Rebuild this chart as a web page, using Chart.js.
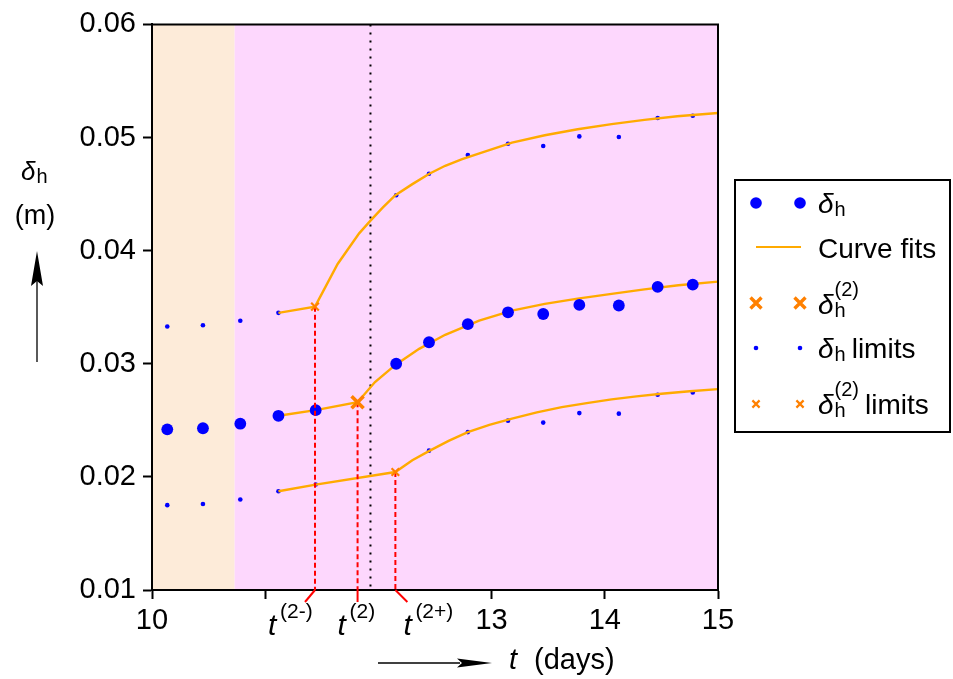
<!DOCTYPE html>
<html>
<head>
<meta charset="utf-8">
<script src="https://cdn.jsdelivr.net/npm/chart.js@4.4.1/dist/chart.umd.min.js"></script>
<style>
  html, body { margin: 0; padding: 0; background: #fff; }
  #wrap { width: 953px; height: 679px; }
</style>
</head>
<body>
<div id="wrap"><canvas id="chart" width="953" height="679"></canvas></div>
<script>
// measurement days and settlement values (m)
const days = [10.135, 10.45, 10.78, 11.117, 11.446, 12.157, 12.447, 12.79, 13.145, 13.456, 13.775, 14.124, 14.467, 14.777];
const deltaH = [0.0242, 0.0243, 0.0247, 0.0254, 0.0259, 0.0300, 0.0319, 0.0335, 0.03455, 0.0344, 0.0352, 0.03515, 0.0368, 0.0370];
const upperLimit = [0.0333, 0.0334, 0.0338, 0.0345, null, 0.0449, 0.0468, 0.04845, 0.04945, 0.04925, 0.0501, 0.05005, 0.05173, 0.05193];
const lowerLimit = [0.0175, 0.0176, 0.0180, 0.01873, 0.01932, null, 0.02232, 0.02396, 0.02497, 0.0248, 0.02564, 0.02559, 0.02726, 0.02747];

// switch points
const tSwitch = [11.44, 11.816, 12.15];       // t(2-), t(2), t(2+)
const tSwitchLabels = ['(2-)', '(2)', '(2+)'];
const deltaSwitch = [0.0266];                  // at t(2)
const deltaSwitchLimits = [0.03505, 0.02043];  // at t(2-) upper, t(2+) lower
const tMiddle = 11.93;
const phaseBounds = [10, 10.73, 15];

// curve fits
const fitUpperX = [11.117, 11.44, 11.64, 11.83, 11.93, 12.04, 12.15, 12.30, 12.45, 12.59, 12.74, 12.886, 13.18, 13.47, 13.76, 14.06, 14.35, 14.64, 15.0];
const fitUpperY = [0.0345, 0.03505, 0.03882, 0.04153, 0.04265, 0.04382, 0.0449, 0.04588, 0.0468, 0.0475, 0.04809, 0.04858, 0.04955, 0.0502, 0.05073, 0.05118, 0.05156, 0.05188, 0.05217];
const fitMidX = [11.117, 11.446, 11.816, 11.97, 12.15, 12.36, 12.59, 12.89, 13.18, 13.47, 13.76, 14.06, 14.35, 14.65, 15.0];
const fitMidY = [0.0254, 0.0259, 0.0266, 0.02838, 0.0299, 0.03132, 0.03256, 0.03382, 0.0347, 0.0353, 0.03576, 0.03618, 0.03658, 0.03694, 0.03726];
const fitLowX = [11.117, 11.446, 12.15, 12.30, 12.45, 12.62, 12.79, 12.98, 13.18, 13.40, 13.62, 13.84, 14.06, 14.28, 14.50, 14.75, 15.0];
const fitLowY = [0.01873, 0.01932, 0.02043, 0.02147, 0.0223, 0.02318, 0.02396, 0.0246, 0.02515, 0.0257, 0.02617, 0.02652, 0.02685, 0.02712, 0.02735, 0.02757, 0.02776];

const xTickValues = [10, 11, 13, 14, 15];
const xTickLabels = ['10', '', '13', '14', '15'];
const yTickValues = [0.01, 0.02, 0.03, 0.04, 0.05, 0.06];
const yTickLabels = ['0.01', '0.02', '0.03', '0.04', '0.05', '0.06'];

const BLUE = '#0000ff';
const FIT = '#ffaa00';
const XCOL = '#ff8000';
const FONT = '"Liberation Sans", Arial, sans-serif';

function pts(xs, ys) {
  return xs.map((x, i) => ({ x: x, y: ys[i] }));
}

const lim2 = [
  { x: tSwitch[0], y: deltaSwitchLimits[0] },
  { x: tSwitch[2], y: deltaSwitchLimits[1] }
];
const sw2 = [{ x: tSwitch[1], y: deltaSwitch[0] }];
const switchTops = [deltaSwitchLimits[0], deltaSwitch[0], deltaSwitchLimits[1]];

function fitSet(xs, ys) {
  return {
    data: pts(xs, ys), showLine: true, borderColor: FIT, borderWidth: 2.4,
    pointRadius: 0, tension: 0, fill: false
  };
}

// δh with optional superscript, returns end x
function drawDelta(ctx, x, y, sup, big) {
  ctx.textAlign = 'left';
  ctx.textBaseline = 'alphabetic';
  ctx.font = 'italic ' + (big || 28) + 'px ' + FONT;
  ctx.fillText('δ', x, y);
  const w = ctx.measureText('δ').width;
  ctx.font = '20px ' + FONT;
  ctx.fillText('h', x + w + 1, y + 3);
  let end = x + w + 1 + ctx.measureText('h').width;
  if (sup) {
    ctx.fillText(sup, x + w + 1, y - 18);
    end = Math.max(end, x + w + 1 + ctx.measureText(sup).width);
  }
  return end;
}

const decor = {
  id: 'decor',
  beforeDraw(chart) {
    const { ctx, chartArea: a, scales: { x } } = chart;
    ctx.save();
    const cols = ['#fdebd9', '#fdd7fd'];
    for (let i = 0; i < phaseBounds.length - 1; i++) {
      const x0 = x.getPixelForValue(phaseBounds[i]);
      const x1 = x.getPixelForValue(phaseBounds[i + 1]);
      ctx.fillStyle = cols[i];
      ctx.fillRect(x0, a.top, x1 - x0, a.bottom - a.top);
    }
    ctx.restore();
  },
  afterDraw(chart) {
    const { ctx, chartArea: a, scales: { x } } = chart;
    ctx.save();
    // frame top/right
    ctx.strokeStyle = '#000';
    ctx.lineWidth = 2;
    ctx.beginPath();
    ctx.moveTo(a.left, a.top);
    ctx.lineTo(a.right, a.top);
    ctx.lineTo(a.right, a.bottom);
    ctx.stroke();

    // red slants below the axis + t labels
    const slant = [-10, 0, 12];
    const lblDx = [-47, -20, 8];
    tSwitch.forEach((t, i) => {
      const px = x.getPixelForValue(t);
      ctx.strokeStyle = '#ff0000';
      ctx.lineWidth = 2;
      ctx.beginPath();
      ctx.moveTo(px, a.bottom);
      ctx.lineTo(px + slant[i], a.bottom + 12);
      ctx.stroke();
      ctx.fillStyle = '#000';
      ctx.textBaseline = 'alphabetic';
      ctx.textAlign = 'left';
      ctx.font = 'italic 30px ' + FONT;
      const lx = px + lblDx[i];
      ctx.fillText('t', lx, 635);
      ctx.font = '21px ' + FONT;
      ctx.fillText(tSwitchLabels[i], lx + 12, 618);
    });

    // x title with arrow
    ctx.fillStyle = '#000';
    ctx.strokeStyle = '#000';
    ctx.lineWidth = 1.3;
    ctx.beginPath();
    ctx.moveTo(378, 663);
    ctx.lineTo(460, 663);
    ctx.stroke();
    ctx.beginPath();
    ctx.moveTo(492, 663);
    ctx.lineTo(457, 658.5);
    ctx.lineTo(462, 663);
    ctx.lineTo(457, 667.5);
    ctx.closePath();
    ctx.fill();
    ctx.font = 'italic 29px ' + FONT;
    ctx.fillText('t', 509, 669);
    ctx.font = '29px ' + FONT;
    ctx.fillText('(days)', 534, 669);

    // y title with arrow
    drawDelta(ctx, 21, 180, null, 26);
    ctx.font = '27px ' + FONT;
    ctx.textAlign = 'center';
    ctx.fillText('(m)', 35, 224);
    ctx.beginPath();
    ctx.moveTo(37, 362);
    ctx.lineTo(37, 280);
    ctx.stroke();
    ctx.beginPath();
    ctx.moveTo(37, 251);
    ctx.lineTo(31, 286);
    ctx.lineTo(37, 281);
    ctx.lineTo(43, 286);
    ctx.closePath();
    ctx.fill();

    // legend
    ctx.fillStyle = '#fff';
    ctx.fillRect(735, 180, 215, 252);
    ctx.strokeStyle = '#000';
    ctx.lineWidth = 2;
    ctx.strokeRect(735, 180, 215, 252);
    const mx = [756, 800];
    const rows = [203, 247, 303, 348, 404];
    ctx.fillStyle = BLUE;
    mx.forEach(m => { ctx.beginPath(); ctx.arc(m, rows[0], 5.8, 0, Math.PI * 2); ctx.fill(); });
    ctx.strokeStyle = FIT;
    ctx.lineWidth = 2;
    ctx.beginPath(); ctx.moveTo(756, rows[1]); ctx.lineTo(801, rows[1]); ctx.stroke();
    function cross(cx, cy, r, w) {
      ctx.strokeStyle = XCOL;
      ctx.lineWidth = w;
      ctx.beginPath();
      ctx.moveTo(cx - r, cy - r); ctx.lineTo(cx + r, cy + r);
      ctx.moveTo(cx - r, cy + r); ctx.lineTo(cx + r, cy - r);
      ctx.stroke();
    }
    mx.forEach(m => cross(m, rows[2], 5.5, 3.4));
    ctx.fillStyle = BLUE;
    mx.forEach(m => { ctx.beginPath(); ctx.arc(m, rows[3], 2.3, 0, Math.PI * 2); ctx.fill(); });
    mx.forEach(m => cross(m, rows[4], 3.6, 2.2));

    ctx.fillStyle = '#000';
    drawDelta(ctx, 818, 213, null);
    ctx.font = '28px ' + FONT;
    ctx.textAlign = 'left';
    ctx.fillText('Curve fits', 818, 258);
    drawDelta(ctx, 818, 314, '(2)');
    let e = drawDelta(ctx, 818, 358, null);
    ctx.font = '28px ' + FONT;
    ctx.fillText('limits', e + 6, 358);
    e = drawDelta(ctx, 818, 414, '(2)');
    ctx.font = '28px ' + FONT;
    ctx.fillText('limits', e + 6, 414);
    ctx.restore();
  }
};

const chart = new Chart(document.getElementById('chart').getContext('2d'), {
  type: 'scatter',
  data: {
    datasets: [
      { data: sw2, pointStyle: 'crossRot', pointRadius: 8.5, borderColor: XCOL, backgroundColor: XCOL, pointBorderWidth: 3.6 },
      { data: lim2, pointStyle: 'crossRot', pointRadius: 5.4, borderColor: XCOL, backgroundColor: XCOL, pointBorderWidth: 2.2 },
      ...tSwitch.map((t, i) => ({
        data: [{ x: t, y: switchTops[i] }, { x: t, y: 0.01 }],
        showLine: true, borderColor: '#ff0000', borderWidth: 2, borderDash: [5, 3], pointRadius: 0
      })),
      { data: pts(days, deltaH), pointRadius: 5.9, backgroundColor: BLUE, borderWidth: 0 },
      fitSet(fitUpperX, fitUpperY),
      fitSet(fitMidX, fitMidY),
      fitSet(fitLowX, fitLowY),
      { data: pts(days, upperLimit), pointRadius: 2.3, backgroundColor: BLUE, borderWidth: 0 },
      { data: pts(days, lowerLimit), pointRadius: 2.3, backgroundColor: BLUE, borderWidth: 0 },
      {
        data: [{ x: tMiddle, y: 0.06 }, { x: tMiddle, y: 0.01 }],
        showLine: true, borderColor: '#000', borderWidth: 2, borderDash: [2, 6], pointRadius: 0
      }
    ]
  },
  options: {
    responsive: false,
    devicePixelRatio: 1,
    animation: false,
    layout: { padding: { top: 23, right: 235, left: 0, bottom: 0 } },
    plugins: { legend: { display: false }, tooltip: { enabled: false } },
    scales: {
      x: {
        type: 'linear', min: 10, max: 15,
        afterBuildTicks: s => { s.ticks = xTickValues.map(v => ({ value: v })); },
        afterFit: s => { s.height = 89; },
        ticks: {
          color: '#000', font: { family: FONT, size: 29 }, padding: 5, maxRotation: 0,
          callback: v => { const i = xTickValues.indexOf(v); return i >= 0 ? xTickLabels[i] : ''; }
        },
        grid: { drawOnChartArea: false, drawTicks: true, tickLength: 9, tickColor: '#000', tickWidth: 2 },
        border: { display: true, color: '#000', width: 2 }
      },
      y: {
        type: 'linear', min: 0.01, max: 0.06,
        afterBuildTicks: s => { s.ticks = yTickValues.map(v => ({ value: v })); },
        afterFit: s => { s.width = 152; },
        ticks: {
          color: '#000', font: { family: FONT, size: 29 }, padding: 7,
          callback: (v, i) => yTickLabels[i]
        },
        grid: { drawOnChartArea: false, drawTicks: true, tickLength: 9, tickColor: '#000', tickWidth: 2 },
        border: { display: true, color: '#000', width: 2 }
      }
    }
  },
  plugins: [decor]
});
</script>
</body>
</html>
